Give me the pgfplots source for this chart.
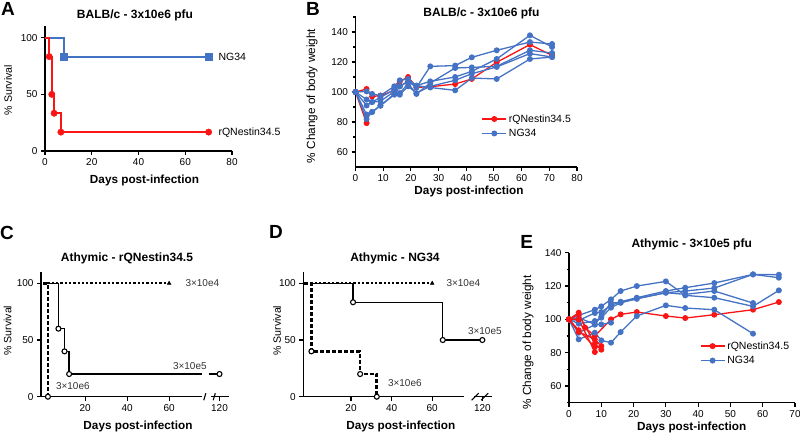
\documentclass[border=0pt]{standalone}
\usepackage{pgfplots}
\pgfplotsset{compat=1.18}
\usepackage{fontspec}
\setmainfont{Liberation Sans}
\definecolor{pblue}{RGB}{68,114,196}
\definecolor{pred}{RGB}{250,20,20}
\newcommand{\fs}[1]{\fontsize{#1}{#1}\selectfont}
\pgfplotsset{
  prism/.style={
    scale only axis, anchor=south west, clip=false,
    axis lines=left,
    axis line style={line width=1.4pt,-,black},
    tick align=outside,
    major tick length=4pt, minor tick length=2.5pt,
    tick style={line width=1.1pt,black},
    tick label style={font=\fs{10}},
    /pgf/number format/assume math mode=true,
    /pgf/number format/1000 sep={},
  },
  wline/.style={line width=1.3pt, mark=*, mark size=2.3pt},
  surv/.style={black, mark=*, mark size=2.5pt, mark options={fill=white, solid, line width=1.1pt}},
  legimg/.style={legend image code/.code={\draw[mark repeat=2,mark phase=2,##1] plot coordinates {(0pt,0pt) (12pt,0pt) (24pt,0pt)};}},
}
\begin{document}
\begin{tikzpicture}
\path[use as bounding box] (0,0) rectangle (800pt,434pt);
% ---------------- Panel A
\node[font=\bfseries\fs{19}] at (8pt,425.5pt) {A};
\node[font=\bfseries\fs{12}] at (135pt,419pt) {BALB/c - 3x10e6 pfu};
\node[font=\bfseries\fs{11.75}] at (144.5pt,254pt) {Days post-infection};
\node[font=\fs{10.6},rotate=90] at (8pt,344pt) {\% Survival};
\node[font=\fs{10.5},anchor=west] at (215pt,377.3pt) {NG34};
\node[font=\fs{10.5},anchor=west] at (215pt,301.7pt) {rQNestin34.5};
\begin{axis}[prism, at={(45pt,283pt)}, width=187pt, height=124.6pt,
  xmin=0, xmax=80, ymin=0, ymax=110, xtick={0,20,...,80}, ytick={0,50,100}]
\addplot[pblue, line width=1.8pt, const plot] coordinates {(0,100)(8,83.33)(70,83.33)};
\addplot[pblue, only marks, mark=square*, mark size=3.4pt] coordinates {(8,83.33)(70,83.33)};
\addplot[pred, line width=1.8pt, const plot] coordinates {(0,100)(1.8,83.33)(2.9,50)(3.9,33.33)(6.8,16.67)(70,16.67)};
\addplot[pred, only marks, mark=*, mark size=3.2pt] coordinates {(1.8,83.33)(2.9,50)(3.9,33.33)(6.8,16.67)(70,16.67)};
\end{axis}
% ---------------- Panel B
\node[font=\bfseries\fs{19}] at (313pt,425.5pt) {B};
\node[font=\bfseries\fs{12}] at (481.5pt,420.5pt) {BALB/c - 3x10e6 pfu};
\node[font=\bfseries\fs{11.75}] at (469pt,243pt) {Days post-infection};
\node[font=\fs{11.8},rotate=90] at (312pt,338pt) {\% Change of body weight};
\begin{axis}[prism, legimg, at={(355.5pt,267pt)}, width=221.5pt, height=150pt,
  xmin=0, xmax=80, ymin=50, ymax=150, xtick={0,10,...,80}, ytick={60,80,...,140},
  minor ytick={70,90,...,150},
  legend style={at={(axis cs:45.5,86.5)}, anchor=north west, draw=none, fill=none,
    font=\fs{10.5}, row sep=1.5pt, inner sep=0pt}, legend cell align=left]
\addplot[pred, wline] coordinates {(0,100)(4,102)(6,97)(9,97.6)(14,101)(16,107)(19,110)(22,103.1)(27,103.5)(36,105.3)(42,108.7)(51,119.8)(63,131.6)(71,124.4)};
\addlegendentry{rQNestin34.5}
\addplot[pblue, wline] coordinates {(0,100)(4,100.4)(6,98.7)(9,97.6)(14,103.8)(16,107.8)(19,108.7)(22,104.2)(27,107.1)(36,110)(42,113.8)(51,122)(63,137.8)(71,130)};
\addlegendentry{NG34}
\addplot[pred, wline, forget plot] coordinates {(0,100)(4,79.3)};
\addplot[pblue, wline, forget plot] coordinates {(0,100)(4,95)(6,93.3)(9,96.4)(14,101.6)(16,103.8)(19,107.1)(22,103)(27,117.1)(36,117.6)(42,123.1)(51,127.8)(63,133.3)(71,132)};
\addplot[pblue, wline, forget plot] coordinates {(0,100)(4,91)(6,93.3)(9,93.8)(14,100.4)(16,99.3)(19,105.6)(22,98.7)(27,106)(36,116)(42,116.4)(51,117.1)(63,127.8)(71,126)};
\addplot[pblue, wline, forget plot] coordinates {(0,100)(4,85)(6,86.7)(9,90.9)(14,98.7)(16,98.2)(19,103.8)(22,99.3)(27,103.8)(36,107.8)(42,112.2)(51,116.7)(63,125.6)(71,123.3)};
\addplot[pblue, wline, forget plot] coordinates {(0,100)(4,82)(6,86.7)(9,90.9)(14,98.2)(16,103.8)(19,107.1)(22,104.2)(27,103)(36,101.1)(42,109.3)(51,108.7)(63,122)(71,123.3)};
\end{axis}
% ---------------- Panel C
\node[font=\bfseries\fs{19}] at (7pt,201.5pt) {C};
\node[font=\bfseries\fs{12}] at (127pt,175.7pt) {Athymic - rQNestin34.5};
\node[font=\bfseries\fs{11.75}] at (138pt,7.3pt) {Days post-infection};
\node[font=\fs{10.6},rotate=90] at (7.7pt,103.3pt) {\% Survival};
\node[font=\fs{10},anchor=west,black!80] at (182pt,150.7pt) {3×10e4};
\node[font=\fs{10},anchor=west,black!80] at (169.5pt,68pt) {3×10e5};
\node[font=\fs{10},anchor=west,black!80] at (52.5pt,48.3pt) {3×10e6};
\begin{axis}[prism, at={(41pt,37.3pt)}, width=189pt, height=124.7pt,
  xmin=-1, xmax=89, ymin=0, ymax=110, xtick={20,40,60,84}, xticklabels={20,40,60,120},
  ytick={0,50,100}, x axis line style={draw=none}]
\draw[line width=1.4pt] (axis cs:-1.8,0) -- (axis cs:75.5,0);
\draw[line width=1.4pt] (axis cs:80,0) -- (axis cs:88.3,0);
\draw[line width=1.1pt] (axis cs:75.5,0) ++(0,-3.5pt) -- ++(0,7pt);
\draw[line width=1.1pt] (axis cs:80,0) ++(0,-3.5pt) -- ++(0,7pt);
\addplot[black, line width=1.4pt, const plot] coordinates {(0,100)(7.3,60)(10.2,40)(12.4,20)(75.5,20)};
\addplot[black, line width=1.4pt] coordinates {(79.2,20)(84,20)};
\addplot[black, line width=2.3pt, dotted] coordinates {(0,100)(60,100)};
\addplot[black, only marks, mark=triangle*, mark size=2.2pt] coordinates {(60,100)};
\addplot[black, line width=2.6pt, dash pattern=on 4pt off 2pt] coordinates {(0,100)(2.3,100)(2.3,0)};
\addplot[surv, only marks] coordinates {(7.3,60)(10.2,40)(12.4,20)(84,20)(2.3,0)};
\end{axis}
% ---------------- Panel D
\node[font=\bfseries\fs{19}] at (276pt,202pt) {D};
\node[font=\bfseries\fs{12}] at (395pt,175.7pt) {Athymic - NG34};
\node[font=\bfseries\fs{11.75}] at (400.8pt,7.3pt) {Days post-infection};
\node[font=\fs{10.6},rotate=90] at (277pt,103.3pt) {\% Survival};
\node[font=\fs{10},anchor=west,black!80] at (443pt,150.7pt) {3×10e4};
\node[font=\fs{10},anchor=west,black!80] at (464.5pt,103pt) {3×10e5};
\node[font=\fs{10},anchor=west,black!80] at (384.5pt,51.3pt) {3×10e6};
\begin{axis}[prism, at={(303.3pt,37.3pt)}, width=188.8pt, height=124.7pt,
  xmin=-3.5, xmax=89.5, ymin=0, ymax=110, xtick={20,40,60,84.7}, xticklabels={20,40,60,120},
  ytick={0,50,100}, x axis line style={draw=none}]
\draw[line width=1.4pt] (axis cs:-4.2,0) -- (axis cs:75.9,0);
\draw[line width=1.4pt] (axis cs:80.6,0) -- (axis cs:89.4,0);
\draw[line width=1.1pt] (axis cs:75.9,0) ++(0,-3.5pt) -- ++(0,7pt);
\draw[line width=1.1pt] (axis cs:80.6,0) ++(0,-3.5pt) -- ++(0,7pt);
\addplot[black, line width=1.4pt, const plot] coordinates {(0,100)(21,83.33)(65.2,50)(84.7,50)};
\addplot[black, line width=2.3pt, dotted] coordinates {(0,100)(60,100)};
\addplot[black, only marks, mark=triangle*, mark size=2.2pt] coordinates {(60,100)};
\addplot[black, line width=2.6pt, dash pattern=on 4pt off 2pt, const plot] coordinates {(-3,100)(0.5,40)(24.5,20)(32.7,0)};
\addplot[surv, only marks] coordinates {(21,83.33)(65.2,50)(84.7,50)(0.5,40)(24.5,20)(32.7,0)};
\end{axis}
% ---------------- Panel E
\node[font=\bfseries\fs{19}] at (526.7pt,192.3pt) {E};
\node[font=\bfseries\fs{12}] at (691.7pt,190pt) {Athymic - 3×10e5 pfu};
\node[font=\bfseries\fs{11.75}] at (691.7pt,6.3pt) {Days post-infection};
\node[font=\fs{11.8},rotate=90] at (528pt,91.5pt) {\% Change of body weight};
\begin{axis}[prism, legimg, at={(569pt,31.3pt)}, width=226pt, height=150pt,
  xmin=0, xmax=70, ymin=50, ymax=140, xtick={0,10,...,70}, ytick={60,80,...,140},
  minor ytick={50,70,...,130},
  legend style={at={(axis cs:40.5,88)}, anchor=north west, draw=none, fill=none,
    font=\fs{10.5}, row sep=1.5pt, inner sep=0pt}, legend cell align=left]
\addplot[pred, wline] coordinates {(0,100)(3,104)(5,95)(8,90)(13,100)(16,103)(21,104.4)(30,102)(36,100.8)(45,102.8)(57,105.8)(65,110.4)};
\addlegendentry{rQNestin34.5}
\addplot[pblue, wline] coordinates {(0,100)(3,102.4)(8,105.8)(10,107.8)(13,112)(16,117)(21,120)(30,122.8)(36,114.4)(45,113)(57,107.8)(65,117.4)};
\addlegendentry{NG34}
\addplot[pblue, wline, forget plot] coordinates {(0,100)(3,99.4)(8,103.8)(10,104.4)(13,108.4)(16,110.6)(21,113)(30,117)(36,119)(45,121.8)(57,127)(65,125)};
\addplot[pblue, wline, forget plot] coordinates {(0,100)(3,97.4)(8,99)(10,101)(13,107)(16,110)(21,112.4)(30,116)(36,117)(45,118.8)(57,127)(65,126.8)};
\addplot[pblue, wline, forget plot] coordinates {(0,100)(3,101)(8,97)(10,101.8)(13,110)(16,110)(21,112.4)(30,116)(36,115)(45,117)(57,109.8)};
\addplot[pblue, wline, forget plot] coordinates {(0,100)(3,88)(8,92)(10,87.4)(13,86)(16,92.4)(21,102)(30,108.4)(36,106.8)(45,105.8)(57,91.4)};
\addplot[pblue, wline, forget plot] coordinates {(0,100)(3,92)(8,96.8)(10,97)(13,98)};
\addplot[pred, wline, forget plot] coordinates {(0,100)(3,103)(8,85.4)(10,81.8)};
\addplot[pred, wline, forget plot] coordinates {(0,100)(3,100)(8,80.4)};
\addplot[pred, wline, forget plot] coordinates {(0,100)(3,93.5)(8,83.4)};
\addplot[pred, wline, forget plot] coordinates {(0,100)(3,92.5)(8,88)(10,84)};
\end{axis}
\end{tikzpicture}
\end{document}
